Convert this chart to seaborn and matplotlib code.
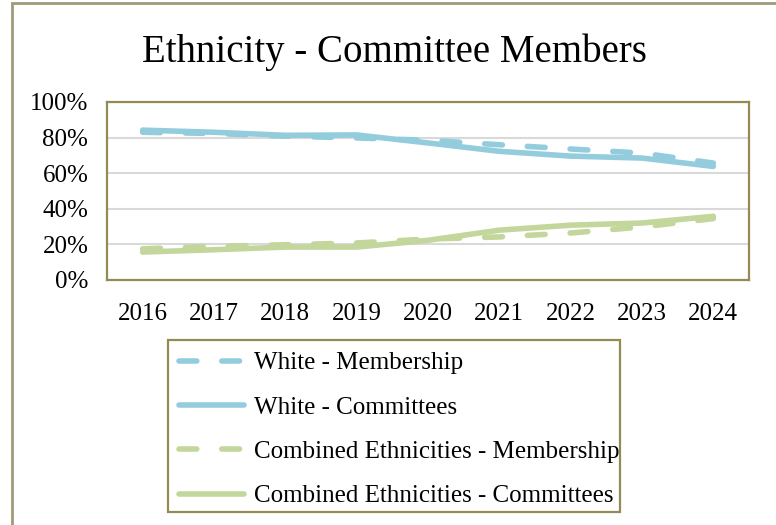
import matplotlib
matplotlib.use("Agg")
import matplotlib.pyplot as plt
import seaborn as sns
import pandas as pd
from matplotlib.patches import Rectangle

years = [2016, 2017, 2018, 2019, 2020, 2021, 2022, 2023, 2024]
white_membership = [83.0, 82.3, 80.8, 79.8, 78.5, 76.0, 73.6, 71.3, 65.7]
white_committees = [84.2, 83.0, 81.3, 81.5, 77.0, 72.3, 69.6, 68.5, 63.8]
combined_membership = [17.5, 18.9, 19.8, 20.8, 23.0, 24.2, 26.4, 29.8, 34.5]
combined_committees = [15.7, 17.0, 18.5, 18.5, 22.3, 28.0, 30.8, 32.0, 35.8]
y_ticks = [0, 20, 40, 60, 80, 100]
y_tick_labels = ["0%", "20%", "40%", "60%", "80%", "100%"]

blue = "#93CDDD"
green = "#C3D69B"
olive = "#948A54"

sns.set_theme(style="white")
plt.rcParams['font.family'] = ['Liberation Serif', 'DejaVu Serif']

fig = plt.figure(figsize=(7.76, 5.25), dpi=100)
ax = fig.add_axes([107/776, 1-280/525, (749-107)/776, (280-102)/525])

series = [
    ("White - Membership", white_membership, blue, True),
    ("White - Committees", white_committees, blue, False),
    ("Combined Ethnicities - Membership", combined_membership, green, True),
    ("Combined Ethnicities - Committees", combined_committees, green, False),
]
lw = 4.0
dash_pattern = (3.2, 4.5)
for name, vals, col, dashed in series:
    d = pd.DataFrame({"year": years, "value": vals})
    sns.lineplot(data=d, x="year", y="value", ax=ax, color=col, linewidth=lw,
                 label=name, solid_capstyle="round", dash_capstyle="round")
    if dashed:
        ax.lines[-1].set_dashes(dash_pattern)

ax.set_xlim(years[0] - 0.5, years[-1] + 0.5)
ax.set_ylim(0, 100)
ax.set_yticks(y_ticks)
ax.set_yticklabels(y_tick_labels)
ax.set_xticks(years)
ax.set_xticklabels([str(y) for y in years])
ax.set_xlabel("")
ax.set_ylabel("")
ax.yaxis.grid(True, color="#D9D9D9", linewidth=1.5)
ax.xaxis.grid(False)
ax.set_axisbelow(True)
for s in ax.spines.values():
    s.set_color(olive)
    s.set_linewidth(1.6)
ax.tick_params(axis="both", length=0, labelsize=18, colors="black")
ax.tick_params(axis="y", pad=13.5)
ax.tick_params(axis="x", pad=16.5)

leg = ax.legend(loc="upper left", bbox_to_anchor=(179/776, 1-352/525),
                bbox_transform=fig.transFigure, frameon=False,
                fontsize=18, handlelength=2.6, labelspacing=0.87,
                borderpad=0, handletextpad=0.38, borderaxespad=0)
for t in leg.get_texts():
    t.set_color("black")

fig.patches.append(Rectangle((168/776, 1-512/525), (620-168)/776, (512-340)/525,
                             transform=fig.transFigure, fill=False,
                             edgecolor=olive, linewidth=1.6, zorder=5))

fig.text(394.5/776, 1-62/525, "Ethnicity - Committee Members", ha="center", va="baseline",
         fontsize=28, color="black")

fig.patches.append(Rectangle((12/776, -0.1), 1.2, 1.1 - 3/525, transform=fig.transFigure,
                             fill=False, edgecolor="#A09A78", linewidth=2.0, zorder=0))

fig.savefig("out.png", dpi=100)
